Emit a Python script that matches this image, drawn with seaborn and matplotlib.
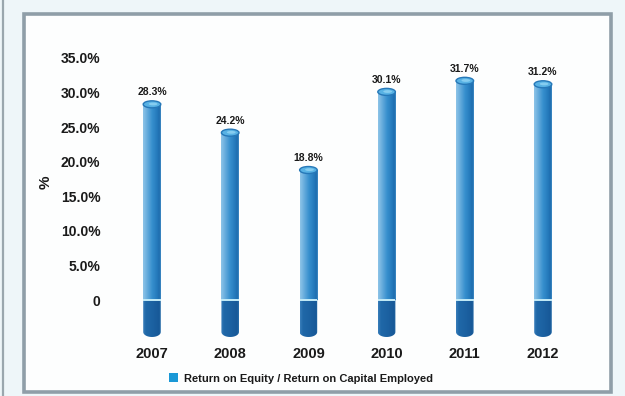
import numpy as np
import pandas as pd
import matplotlib
matplotlib.use("Agg")
import matplotlib.pyplot as plt
import seaborn as sns
from matplotlib.colors import LinearSegmentedColormap
from matplotlib.patches import Ellipse, Polygon, Rectangle, Patch
from matplotlib.lines import Line2D

# Data
years = ["2007", "2008", "2009", "2010", "2011", "2012"]
roe_roce = [28.3, 24.2, 18.8, 30.1, 31.7, 31.2]
y_ticks = [0, 5, 10, 15, 20, 25, 30, 35]
y_tick_labels = ["0", "5.0%", "10.0%", "15.0%", "20.0%", "25.0%", "30.0%", "35.0%"]
series_name = "Return on Equity / Return on Capital Employed"

df = pd.DataFrame({"year": years, "value": roe_roce})

sns.set_theme(style="white")
plt.rcParams["font.family"] = ["Liberation Sans", "DejaVu Sans"]
plt.rcParams["font.weight"] = "bold"

W, H = 625, 396
fig = plt.figure(figsize=(W / 100, H / 100), dpi=100, facecolor="#eef6f9")

# outer panel: pale margin, left rule and framed white card
fig.add_artist(Line2D([3.0 / W, 3.0 / W], [0, 1], color="#9aa7ae", lw=1.6))
fig.add_artist(Rectangle((24 / W, 1 - 392 / H), (611 - 24) / W, (392 - 14) / H,
                         transform=fig.transFigure, facecolor="#fdfefe",
                         edgecolor="#8f9ea8", lw=2.6, zorder=0))

# axes placement (pixel geometry -> figure fractions)
y_lo, y_hi = -6.4, 37.0
px_per = 242 / 35.0
top_px = 300 - y_hi * px_per
bot_px = 300 - y_lo * px_per
x_left_px, x_right_px = 152 - 39.1, 543 + 39.1
ax = fig.add_axes([x_left_px / W, 1 - bot_px / H,
                   (x_right_px - x_left_px) / W, (bot_px - top_px) / H])
ax.patch.set_alpha(0)

bar_w = 0.225
sns.barplot(data=df, x="year", y="value", color="#2f8bcb", width=bar_w,
            ax=ax, saturation=1, zorder=2)

ax.set_xlim(-0.5, len(years) - 0.5)
ax.set_ylim(y_lo, y_hi)

body_cmap = LinearSegmentedColormap.from_list(
    "body", [(0.0, "#8ec4e8"), (0.28, "#5ea7da"), (0.5, "#3790ce"),
             (0.8, "#2479bb"), (0.94, "#1c6aab"), (1.0, "#4a95cc")])
base_cmap = LinearSegmentedColormap.from_list(
    "base", [(0.0, "#3a7fbb"), (0.15, "#2068a8"), (0.6, "#1b60a0"),
             (0.92, "#175897"), (1.0, "#2c72ae")])
grad = np.linspace(0, 1, 64).reshape(1, -1)

base_depth = 5.35
cap_h = 7.0 / px_per
foot_h = 5.0 / px_per

for bar, val in zip(ax.patches, roe_roce):
    x0 = bar.get_x()
    w = bar.get_width()
    x1 = x0 + w
    xc = x0 + w / 2
    bar.set_facecolor("none")
    bar.set_edgecolor("none")

    # cylinder body with horizontal shading
    im = ax.imshow(grad, cmap=body_cmap, extent=[x0, x1, 0, val],
                   aspect="auto", origin="lower", zorder=2, interpolation="bicubic")
    clip = Rectangle((x0, 0), w, val, transform=ax.transData, facecolor="none",
                     edgecolor="none")
    ax.add_patch(clip)
    im.set_clip_path(clip)

    # dark foot below the zero line with rounded bottom
    t = np.linspace(np.pi, 2 * np.pi, 30)
    ex = xc + (w / 2) * np.cos(t)
    ey = -base_depth + foot_h + foot_h * np.sin(t)
    pts = [(x0, 0)] + [(x0, -base_depth + foot_h)] + list(zip(ex, ey)) + \
          [(x1, -base_depth + foot_h), (x1, 0)]
    foot = Polygon(pts, closed=True, facecolor="none", edgecolor="none",
                   transform=ax.transData)
    ax.add_patch(foot)
    im2 = ax.imshow(grad, cmap=base_cmap, extent=[x0, x1, -base_depth, 0],
                    aspect="auto", origin="lower", zorder=2, interpolation="bicubic")
    im2.set_clip_path(foot)

    # pale seam at zero
    ax.plot([x0, x1], [0, 0], color="#c4ecf8", lw=1.4, zorder=3,
            solid_capstyle="butt")

    # elliptical cap
    ax.add_patch(Ellipse((xc, val), w, cap_h, facecolor="#58b2e4",
                         edgecolor="#2678b8", lw=1.0, zorder=4))
    ax.add_patch(Ellipse((xc + w * 0.06, val + cap_h * 0.05), w * 0.5, cap_h * 0.4,
                         facecolor="#86cdf0", edgecolor="none", zorder=5))

    ax.annotate(f"{val:.1f}%", (xc, val), xytext=(0, 5), textcoords="offset points",
                ha="center", va="bottom", fontsize=7.5, fontweight="bold",
                color="#1a1a1a")

ax.set_xlim(-0.5, len(years) - 0.5)
ax.set_ylim(y_lo, y_hi)

ax.set_yticks(y_ticks)
ax.set_yticklabels(y_tick_labels)
ax.tick_params(axis="y", length=0, pad=9, labelsize=10, labelcolor="#1a1a1a")
ax.tick_params(axis="x", length=0, pad=2, labelsize=10.5, labelcolor="#1a1a1a")
for lab in ax.get_xticklabels() + ax.get_yticklabels():
    lab.set_fontweight("bold")

ax.set_xlabel("")
ax.set_ylabel("%", fontsize=11, fontweight="bold", color="#1a1a1a")
ax.yaxis.set_label_coords((53 - x_left_px) / (x_right_px - x_left_px),
                          (bot_px - 182) / (bot_px - top_px))
for s in ax.spines.values():
    s.set_visible(False)
ax.grid(False)

fig.legend(handles=[Patch(facecolor="#1a98d6", edgecolor="none", label=series_name)],
           loc="center", bbox_to_anchor=(301 / W, 1 - 378.5 / H), frameon=False,
           handlelength=0.8, handleheight=0.8, handletextpad=0.6,
           prop={"size": 8, "weight": "bold"}, labelcolor="#1a1a1a")

fig.savefig("out.png", dpi=100, facecolor=fig.get_facecolor())
